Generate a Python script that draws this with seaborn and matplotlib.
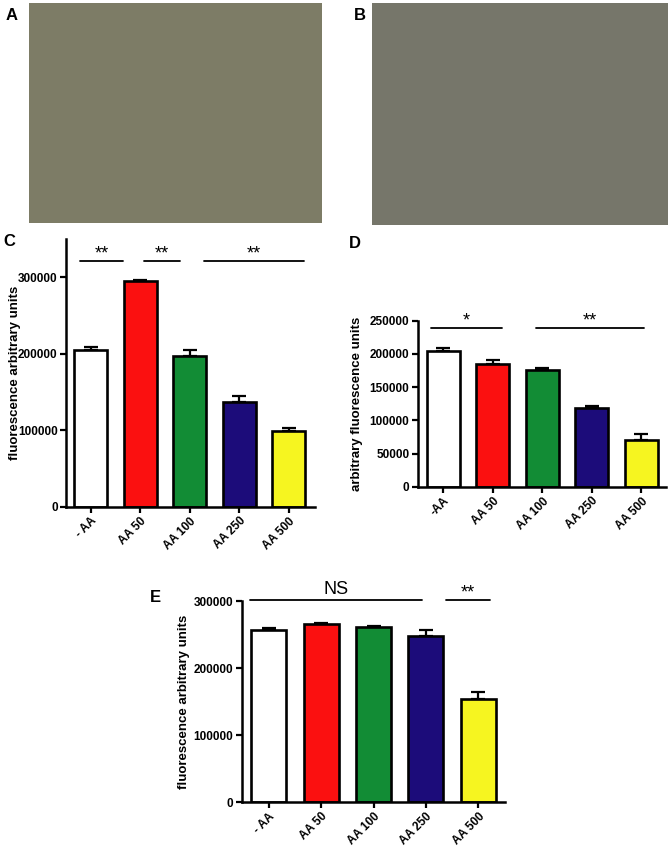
import numpy as np
import pandas as pd
import matplotlib
matplotlib.use("Agg")
import matplotlib.pyplot as plt
import seaborn as sns

sns.set_theme(style="ticks")
plt.rcParams['font.family'] = ['Liberation Sans', 'DejaVu Sans']
plt.rcParams['text.color'] = 'black'
plt.rcParams['axes.labelcolor'] = 'black'
plt.rcParams['xtick.color'] = 'black'
plt.rcParams['ytick.color'] = 'black'
plt.rcParams['axes.edgecolor'] = 'black'

# ---------------- data ----------------
cats_C = ["- AA", "AA 50", "AA 100", "AA 250", "AA 500"]
mean_C = [204500, 294500, 197500, 136300, 99600]
err_C = [4500, 2000, 7500, 8500, 3000]

cats_D = ["-AA", "AA 50", "AA 100", "AA 250", "AA 500"]
mean_D = [205000, 184300, 175300, 119000, 70800]
err_D = [3500, 6000, 3000, 2500, 9000]

cats_E = ["- AA", "AA 50", "AA 100", "AA 250", "AA 500"]
mean_E = [256800, 265700, 261700, 248300, 154000]
err_E = [3400, 2000, 1000, 8500, 10000]

bar_colors = ["#ffffff", "#fb1010", "#128c35", "#1c0c7a", "#f6f520"]

# significance brackets: (x start, x end, y, label)
sig_C = [(-0.21, 0.66, 321000, "**"), (1.08, 1.81, 321000, "**"), (2.29, 4.31, 321000, "**")]
sig_D = [(-0.25, 1.18, 238500, "*"), (1.88, 4.05, 238500, "**")]
sig_E = [(-0.36, 2.92, 301500, "NS"), (3.39, 4.22, 301500, "**")]

W, H = 670, 849
fig = plt.figure(figsize=(W / 100, H / 100), dpi=100)


def rect(x0, y0, x1, y1):
    return [x0 / W, 1 - y1 / H, (x1 - x0) / W, (y1 - y0) / H]


# ---------------- photo panels (placeholders) ----------------
for (x0, y0, x1, y1), col, lab, lx in [((29, 3, 322, 223), "#7d7c66", "A", 6),
                                      ((372, 3, 668, 225), "#76766a", "B", 354)]:
    axp = fig.add_axes(rect(x0, y0, x1, y1))
    axp.set_facecolor(col)
    axp.set_xticks([]); axp.set_yticks([])
    for s in axp.spines.values():
        s.set_visible(False)
    fig.text(lx / W, 1 - 15 / H, lab, fontsize=12, fontweight="bold", ha="left", va="center")


def panel(box, cats, means, errs, ylim, yticks, xlim, ylabel, label_x, sigs, letter,
          letter_xy, star_fs=13, ns_fs=13):
    ax = fig.add_axes(rect(*box))
    df = pd.DataFrame({"cat": cats, "val": means})
    sns.barplot(data=df, x="cat", y="val", hue="cat", palette=bar_colors, legend=False,
                edgecolor="black", linewidth=1.9, width=0.67, ax=ax, errorbar=None,
                saturation=1, zorder=2)
    ax.errorbar(range(len(cats)), means, yerr=[[0] * len(cats), errs], fmt="none",
                ecolor="black", elinewidth=1.6, capsize=5, capthick=1.6, zorder=1)
    ax.set_ylim(*ylim)
    ax.set_xlim(*xlim)
    ax.set_yticks(yticks)
    ax.set_yticklabels([str(t) for t in yticks], fontsize=8.5, fontweight="bold")
    ax.set_xticks(range(len(cats)))
    ax.set_xticklabels(cats, rotation=45, ha="right", rotation_mode="anchor",
                       fontsize=8.5, fontweight="bold")
    ax.set_xlabel("")
    ax.set_ylabel(ylabel, fontsize=9.5, fontweight="bold", va="center")
    ax.yaxis.set_label_coords(label_x, 0.5)
    ax.tick_params(axis="both", direction="out", length=4, width=1.6, pad=2)
    for side in ["top", "right"]:
        ax.spines[side].set_visible(False)
    for side in ["left", "bottom"]:
        ax.spines[side].set_linewidth(1.8)
    for x0, x1, y, lab in sigs:
        ax.plot([x0, x1], [y, y], color="black", lw=1.3, clip_on=False)
        if lab == "NS":
            ax.text((x0 + x1) / 2, y + (ylim[1] - ylim[0]) * 0.012, lab, ha="center",
                    va="bottom", fontsize=ns_fs, clip_on=False)
        else:
            ax.text((x0 + x1) / 2, y - (ylim[1] - ylim[0]) * 0.005, lab, ha="center",
                    va="bottom", fontsize=star_fs, clip_on=False)
    fig.text(letter_xy[0] / W, 1 - letter_xy[1] / H, letter, fontsize=12,
             fontweight="bold", ha="left", va="center")
    return ax


panel((66, 239, 315, 506.7), cats_C, mean_C, err_C, (0, 350000),
      [0, 100000, 200000, 300000], (-0.5, 4.53), "fluorescence arbitrary units", -0.205,
      sig_C, "C", (3, 241))

panel((417.7, 320.7, 666, 486.7), cats_D, mean_D, err_D, (0, 250000),
      [0, 50000, 100000, 150000, 200000, 250000], (-0.52, 4.5),
      "arbitrary fluorescence units", -0.245, sig_D, "D", (349, 243))

panel((241.7, 601, 505, 802.3), cats_E, mean_E, err_E, (0, 300000),
      [0, 100000, 200000, 300000], (-0.52, 4.51), "fluorescence arbitrary units", -0.22,
      sig_E, "E", (150, 597))

fig.savefig("out.png", dpi=100)
